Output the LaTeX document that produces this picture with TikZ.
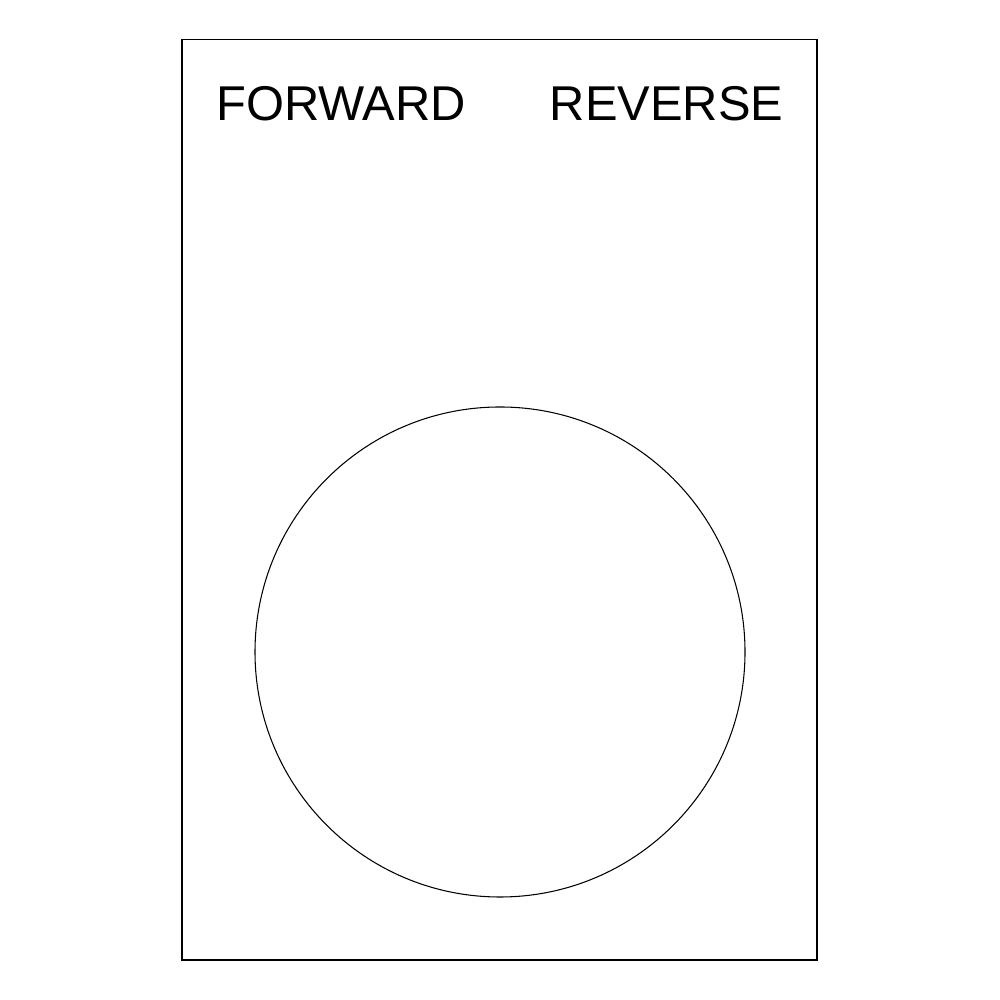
\documentclass[tikz,border=0pt]{standalone}
\usepackage{fontspec}
\setmainfont{Liberation Sans}
\usetikzlibrary{positioning}

\begin{document}
\begin{tikzpicture}[x=1cm,y=1cm]
		\tikzset{
			plate/.style = {draw, line width=0.3pt},
			legend/.style= {inner sep=0pt, anchor=base, font=\fontsize{13.9pt}{16pt}\selectfont},
		}
		\useasboundingbox (0,0) rectangle (10,10);
		
		%nodes
		\node (panel) [plate, rectangle, minimum width=6.35cm, minimum height=9.2cm] at (4.995,5) {};
		\node (button) [plate, circle, minimum size=4.9cm] at (5.0,3.48) {};
		\node (fwd) [legend] at (3.41,8.79) {FORWARD};
		\node (rev) [legend] at (6.665,8.79) {REVERSE};
\end{tikzpicture}
\end{document}
